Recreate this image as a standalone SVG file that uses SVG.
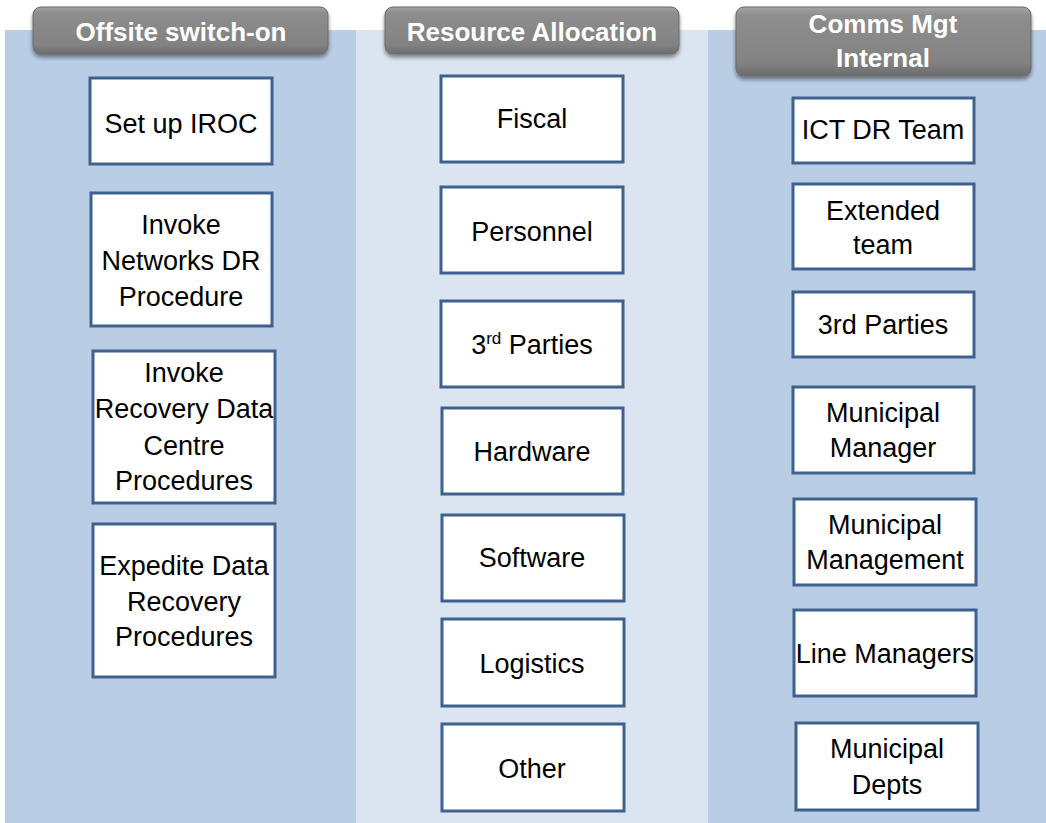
<svg xmlns="http://www.w3.org/2000/svg" width="1046" height="823" viewBox="0 0 1046 823">
<style>
.col1{fill:#B9CDE5}
.col2{fill:#DBE5F1}
.box{fill:#FFFFFF;stroke:#3F6190;stroke-width:3}
.t{font-family:"Liberation Sans",Arial,sans-serif;font-size:27px;fill:#000;text-anchor:middle}
.h{font-family:"Liberation Sans",Arial,sans-serif;font-size:26px;font-weight:bold;fill:#FFFFFF;text-anchor:middle}
.tab{fill:url(#tabg);stroke:#6a6a6a;stroke-width:1;filter:url(#sh)}
</style>
<defs>
<linearGradient id="tabg" x1="0" y1="0" x2="0" y2="1">
<stop offset="0" stop-color="#a5a5a5"/>
<stop offset="0.12" stop-color="#8e8e8e"/>
<stop offset="0.8" stop-color="#828282"/>
<stop offset="1" stop-color="#6c6c6c"/>
</linearGradient>
<filter id="sh" x="-10%" y="-20%" width="120%" height="150%">
<feGaussianBlur in="SourceAlpha" stdDeviation="2"/>
<feOffset dx="0" dy="3" result="b"/>
<feComponentTransfer><feFuncA type="linear" slope="0.45"/></feComponentTransfer>
<feMerge><feMergeNode/><feMergeNode in="SourceGraphic"/></feMerge>
</filter>
</defs>
<rect width="1046" height="823" fill="#FFFFFF"/>
<g id="columns">
<rect class="col1" x="5" y="30" width="351" height="793"/>
<rect class="col2" x="356" y="30" width="352" height="793"/>
<rect class="col1" x="708" y="30" width="338" height="793"/>
</g>
<g id="header-offsite">
<rect class="tab" x="33" y="7" width="295" height="47" rx="8"/>
<text class="h" x="181" y="41">Offsite switch-on</text>
</g>
<g id="header-resource">
<rect class="tab" x="385" y="7" width="294" height="47" rx="8"/>
<text class="h" x="532" y="41">Resource Allocation</text>
</g>
<g id="header-comms">
<rect class="tab" x="736" y="7" width="295" height="69" rx="8"/>
<text class="h" x="883" y="33">Comms Mgt</text>
<text class="h" x="883" y="67">Internal</text>
</g>
<g id="n-setup-iroc">
<rect class="box" x="90" y="78" width="182" height="86"/>
<text class="t" x="181" y="133">Set up IROC</text>
</g>
<g id="n-invoke-networks">
<rect class="box" x="91" y="193" width="181" height="133"/>
<text class="t" x="181" y="234">Invoke</text>
<text class="t" x="181" y="270">Networks DR</text>
<text class="t" x="181" y="306">Procedure</text>
</g>
<g id="n-invoke-recovery">
<rect class="box" x="93" y="351" width="182" height="152"/>
<text class="t" x="184" y="382">Invoke</text>
<text class="t" x="184" y="418">Recovery Data</text>
<text class="t" x="184" y="455">Centre</text>
<text class="t" x="184" y="490">Procedures</text>
</g>
<g id="n-expedite">
<rect class="box" x="93" y="524" width="182" height="153"/>
<text class="t" x="184" y="575">Expedite Data</text>
<text class="t" x="184" y="611">Recovery</text>
<text class="t" x="184" y="646">Procedures</text>
</g>
<g id="n-fiscal">
<rect class="box" x="441" y="76" width="182" height="86"/>
<text class="t" x="532" y="128">Fiscal</text>
</g>
<g id="n-personnel">
<rect class="box" x="441" y="187" width="182" height="86"/>
<text class="t" x="532" y="241">Personnel</text>
</g>
<g id="n-3rd-parties-res">
<rect class="box" x="441" y="301" width="182" height="86"/>
<text class="t" x="532" y="354">3<tspan font-size="17" dy="-10">rd</tspan><tspan dy="10"> Parties</tspan></text>
</g>
<g id="n-hardware">
<rect class="box" x="442" y="408" width="181" height="86"/>
<text class="t" x="532" y="461">Hardware</text>
</g>
<g id="n-software">
<rect class="box" x="442" y="515" width="182" height="86"/>
<text class="t" x="532" y="567">Software</text>
</g>
<g id="n-logistics">
<rect class="box" x="442" y="619" width="182" height="87"/>
<text class="t" x="532" y="673">Logistics</text>
</g>
<g id="n-other">
<rect class="box" x="442" y="724" width="182" height="87"/>
<text class="t" x="532" y="778">Other</text>
</g>
<g id="n-ict-dr-team">
<rect class="box" x="793" y="98" width="181" height="65"/>
<text class="t" x="883" y="139">ICT DR Team</text>
</g>
<g id="n-extended-team">
<rect class="box" x="793" y="184" width="181" height="85"/>
<text class="t" x="883" y="220">Extended</text>
<text class="t" x="883" y="254">team</text>
</g>
<g id="n-3rd-parties-comms">
<rect class="box" x="793" y="292" width="181" height="65"/>
<text class="t" x="883" y="334">3rd Parties</text>
</g>
<g id="n-municipal-manager">
<rect class="box" x="793" y="387" width="181" height="86"/>
<text class="t" x="883" y="422">Municipal</text>
<text class="t" x="883" y="457">Manager</text>
</g>
<g id="n-municipal-management">
<rect class="box" x="794" y="499" width="182" height="86"/>
<text class="t" x="885" y="534">Municipal</text>
<text class="t" x="885" y="569">Management</text>
</g>
<g id="n-line-managers">
<rect class="box" x="794" y="610" width="182" height="86"/>
<text class="t" x="885" y="663">Line Managers</text>
</g>
<g id="n-municipal-depts">
<rect class="box" x="796" y="723" width="182" height="87"/>
<text class="t" x="887" y="758">Municipal</text>
<text class="t" x="887" y="794">Depts</text>
</g>
<g id="connectors"/>
</svg>
